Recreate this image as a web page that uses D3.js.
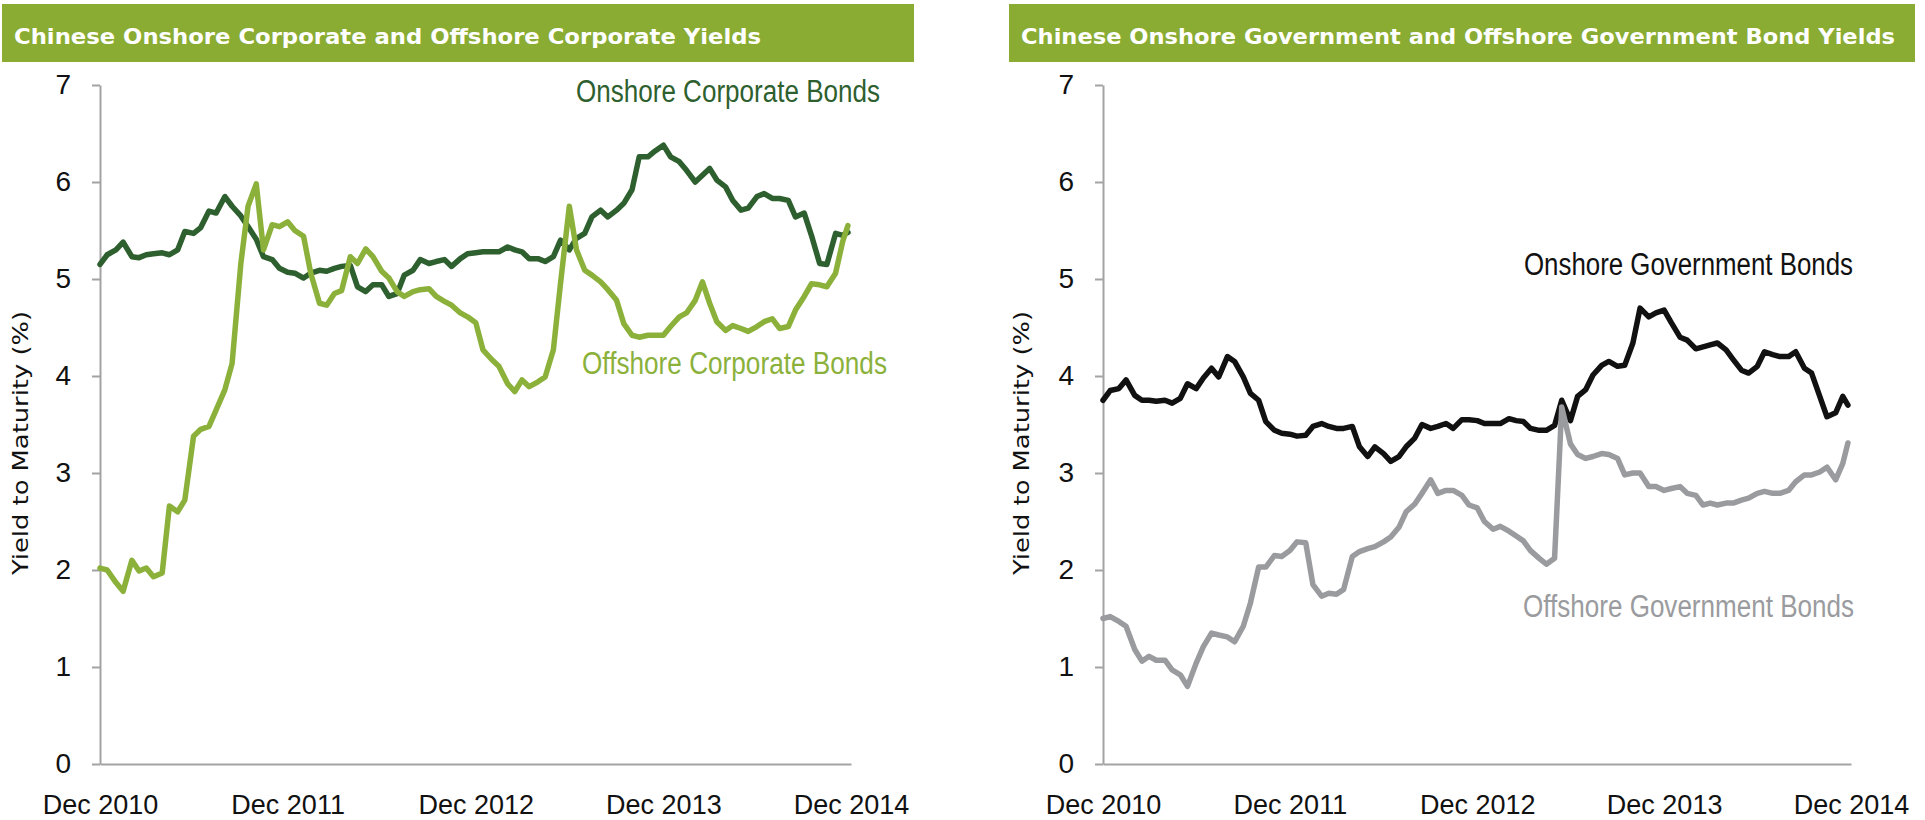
<!DOCTYPE html>
<html>
<head>
<meta charset="utf-8">
<script src="https://cdn.jsdelivr.net/npm/d3@7"></script>
<style>
  body { margin: 0; background: #fff; }
  svg { display: block; }
</style>
</head>
<body>
<div id="chart"></div>
<script>
// 1: DATA (semi-monthly readings, Dec 2010 - Nov 2014)
const dates = [
  "2010-12-01","2010-12-15",
  "2011-01-01","2011-01-15","2011-02-01","2011-02-15","2011-03-01","2011-03-15","2011-04-01","2011-04-15",
  "2011-05-01","2011-05-15","2011-06-01","2011-06-15","2011-07-01","2011-07-15","2011-08-01","2011-08-15",
  "2011-09-01","2011-09-15","2011-10-01","2011-10-15","2011-11-01","2011-11-15","2011-12-01","2011-12-15",
  "2012-01-01","2012-01-15","2012-02-01","2012-02-15","2012-03-01","2012-03-15","2012-04-01","2012-04-15",
  "2012-05-01","2012-05-15","2012-06-01","2012-06-15","2012-07-01","2012-07-15","2012-08-01","2012-08-15",
  "2012-09-01","2012-09-15","2012-10-01","2012-10-15","2012-11-01","2012-11-15","2012-12-01","2012-12-15",
  "2013-01-01","2013-01-15","2013-02-01","2013-02-15","2013-03-01","2013-03-15","2013-04-01","2013-04-15",
  "2013-05-01","2013-05-15","2013-06-01","2013-06-15","2013-07-01","2013-07-15","2013-08-01","2013-08-15",
  "2013-09-01","2013-09-15","2013-10-01","2013-10-15","2013-11-01","2013-11-15","2013-12-01","2013-12-15",
  "2014-01-01","2014-01-15","2014-02-01","2014-02-15","2014-03-01","2014-03-15","2014-04-01","2014-04-15",
  "2014-05-01","2014-05-15","2014-06-01","2014-06-15","2014-07-01","2014-07-15","2014-08-01","2014-08-15",
  "2014-09-01","2014-09-15","2014-10-01","2014-10-15","2014-11-01","2014-11-15","2014-11-25"
];

const corpOnshore = [
  5.15,5.25,5.30,5.38,5.23,5.22,5.25,5.26,5.27,5.25,
  5.30,5.49,5.47,5.53,5.70,5.68,5.85,5.75,5.65,5.54,
  5.41,5.23,5.20,5.11,5.07,5.06,5.01,5.06,5.09,5.08,
  5.11,5.13,5.14,4.92,4.87,4.94,4.94,4.82,4.85,5.04,
  5.09,5.20,5.16,5.18,5.20,5.13,5.21,5.26,5.27,5.28,
  5.28,5.28,5.33,5.30,5.28,5.21,5.21,5.18,5.23,5.40,
  5.30,5.42,5.47,5.64,5.71,5.64,5.71,5.78,5.92,6.26,
  6.26,6.32,6.38,6.26,6.21,6.12,6.00,6.07,6.14,6.02,
  5.95,5.81,5.71,5.73,5.85,5.88,5.83,5.83,5.81,5.64,
  5.68,5.45,5.16,5.15,5.47,5.45,5.48
];

const corpOffshore = [
  2.02,2.00,1.87,1.78,2.10,1.99,2.02,1.93,1.97,2.66,
  2.60,2.72,3.38,3.45,3.48,3.65,3.86,4.13,5.16,5.75,
  5.98,5.30,5.56,5.54,5.59,5.50,5.44,5.06,4.75,4.73,
  4.85,4.88,5.23,5.16,5.31,5.23,5.08,5.01,4.87,4.82,
  4.87,4.89,4.90,4.82,4.77,4.73,4.65,4.61,4.55,4.27,
  4.17,4.10,3.92,3.84,3.96,3.89,3.94,3.99,4.27,4.96,
  5.75,5.30,5.09,5.04,4.97,4.89,4.78,4.54,4.42,4.40,
  4.42,4.42,4.42,4.51,4.61,4.65,4.78,4.97,4.75,4.56,
  4.47,4.52,4.49,4.46,4.51,4.56,4.59,4.49,4.51,4.68,
  4.82,4.95,4.94,4.92,5.06,5.39,5.55
];

const govOnshore = [
  3.75,3.85,3.87,3.96,3.80,3.75,3.75,3.74,3.75,3.72,
  3.77,3.92,3.87,3.98,4.08,3.99,4.20,4.15,3.99,3.82,
  3.75,3.53,3.44,3.41,3.40,3.38,3.39,3.48,3.51,3.48,
  3.46,3.46,3.48,3.27,3.17,3.27,3.20,3.12,3.17,3.27,
  3.36,3.50,3.46,3.48,3.51,3.46,3.55,3.55,3.54,3.51,
  3.51,3.51,3.56,3.54,3.53,3.46,3.44,3.44,3.49,3.75,
  3.54,3.79,3.86,4.01,4.11,4.15,4.10,4.11,4.34,4.70,
  4.61,4.65,4.68,4.55,4.40,4.37,4.28,4.30,4.32,4.34,
  4.27,4.17,4.06,4.03,4.10,4.25,4.22,4.20,4.20,4.25,
  4.08,4.03,3.79,3.58,3.62,3.79,3.70
];

const govOffshore = [
  1.50,1.52,1.47,1.42,1.18,1.06,1.11,1.07,1.07,0.97,
  0.92,0.80,1.04,1.21,1.35,1.33,1.31,1.26,1.42,1.66,
  2.03,2.03,2.15,2.14,2.20,2.29,2.28,1.85,1.73,1.76,
  1.75,1.80,2.14,2.19,2.22,2.24,2.29,2.34,2.44,2.60,
  2.68,2.79,2.93,2.79,2.82,2.82,2.77,2.67,2.64,2.50,
  2.42,2.45,2.40,2.35,2.30,2.20,2.12,2.06,2.12,3.68,
  3.30,3.19,3.15,3.17,3.20,3.19,3.15,2.98,3.00,3.00,
  2.86,2.86,2.82,2.84,2.86,2.79,2.77,2.67,2.69,2.67,
  2.69,2.69,2.72,2.74,2.79,2.81,2.79,2.79,2.82,2.91,
  2.98,2.98,3.01,3.06,2.93,3.10,3.31
];

const yTicks = [0, 1, 2, 3, 4, 5, 6, 7];
const xTickDates = ["2010-12-01", "2011-12-01", "2012-12-01", "2013-12-01", "2014-12-01"];
const xTickLabels = ["Dec 2010", "Dec 2011", "Dec 2012", "Dec 2013", "Dec 2014"];
const titles = [
  "Chinese Onshore Corporate and Offshore Corporate Yields",
  "Chinese Onshore Government and Offshore Government Bond Yields"
];
const seriesNames = [
  ["Onshore Corporate Bonds", "Offshore Corporate Bonds"],
  ["Onshore Government Bonds", "Offshore Government Bonds"]
];
const yLabel = "Yield to Maturity (%)";

// 2: SVG
const width = 1925, height = 820;
const svg = d3.select("#chart").append("svg")
    .attr("width", width)
    .attr("height", height);

const parse = d3.timeParse("%Y-%m-%d");
const dateObjs = dates.map(parse);

const plotTop = 85, plotBottom = 764;
const y = d3.scaleLinear().domain([0, 7]).range([plotBottom, plotTop]);

function drawPanel(p) {
    const g = svg.append("g");

    // banner
    g.append("rect")
        .attr("x", p.bannerX).attr("y", 4)
        .attr("width", p.bannerW).attr("height", 58)
        .attr("fill", "#8aac32");
    g.append("text")
        .attr("x", p.bannerX + 12).attr("y", 44)
        .attr("fill", "#fff")
        .attr("font-family", "'DejaVu Sans', sans-serif")
        .attr("font-weight", "bold")
        .attr("font-size", 22)
        .attr("textLength", p.titleLen)
        .attr("lengthAdjust", "spacingAndGlyphs")
        .text(p.title);

    const x = d3.scaleTime()
        .domain([parse("2010-12-01"), parse("2014-12-01")])
        .range([p.x0, p.x1]);

    // y axis
    const yAxis = g.append("g")
        .attr("transform", `translate(${p.x0},0)`)
        .call(d3.axisLeft(y).tickValues(yTicks).tickSize(8).tickSizeOuter(0)
            .tickPadding(21).tickFormat(d3.format("d")));
    yAxis.select(".domain").attr("stroke", "#a3a3a3").attr("stroke-width", 2);
    yAxis.selectAll(".tick line").attr("stroke", "#a3a3a3").attr("stroke-width", 2);
    yAxis.selectAll(".tick text")
        .attr("fill", "#111")
        .attr("font-family", "'Liberation Sans', Arial, sans-serif")
        .attr("font-size", 28);

    // x axis
    const xAxis = g.append("g")
        .attr("transform", `translate(0,${plotBottom})`)
        .call(d3.axisBottom(x).tickValues(xTickDates.map(parse)).tickSize(0).tickSizeOuter(0)
            .tickPadding(31).tickFormat((d, i) => xTickLabels[i]));
    xAxis.select(".domain").attr("stroke", "#a3a3a3").attr("stroke-width", 2);
    xAxis.selectAll(".tick text")
        .attr("fill", "#111")
        .attr("font-family", "'Liberation Sans', Arial, sans-serif")
        .attr("font-size", 27);

    // y label
    g.append("text")
        .attr("transform", `translate(${p.labelX},443) rotate(-90)`)
        .attr("text-anchor", "middle")
        .attr("dy", "0.35em")
        .attr("fill", "#111")
        .attr("font-family", "'DejaVu Sans', sans-serif")
        .attr("font-size", 22)
        .attr("textLength", 264)
        .attr("lengthAdjust", "spacingAndGlyphs")
        .text(yLabel);

    // lines
    const line = d3.line()
        .x((d, i) => x(dateObjs[i]))
        .y(d => y(d));

    p.series.forEach(s => {
        g.append("path")
            .datum(s.values)
            .attr("fill", "none")
            .attr("stroke", s.color)
            .attr("stroke-width", 5.5)
            .attr("stroke-linejoin", "round")
            .attr("stroke-linecap", "round")
            .attr("d", line);
    });

    // series labels
    p.series.forEach(s => {
        g.append("text")
            .attr("x", s.labelX).attr("y", s.labelY)
            .attr("text-anchor", "end")
            .attr("fill", s.color)
            .attr("font-family", "'Liberation Sans Narrow', 'Liberation Sans', sans-serif")
            .attr("font-size", 31)
            .attr("textLength", s.labelLen)
            .attr("lengthAdjust", "spacingAndGlyphs")
            .text(s.name);
    });
}

drawPanel({
    bannerX: 2, bannerW: 912, title: titles[0], titleLen: 747,
    x0: 100, x1: 851, labelX: 20,
    series: [
        { name: seriesNames[0][0], values: corpOnshore, color: "#2e5f2f", labelX: 880, labelY: 102, labelLen: 304 },
        { name: seriesNames[0][1], values: corpOffshore, color: "#8bb13b", labelX: 887, labelY: 374, labelLen: 305 }
    ]
});

drawPanel({
    bannerX: 1009, bannerW: 906, title: titles[1], titleLen: 874,
    x0: 1103, x1: 1851, labelX: 1021,
    series: [
        { name: seriesNames[1][0], values: govOnshore, color: "#111111", labelX: 1853, labelY: 275, labelLen: 329 },
        { name: seriesNames[1][1], values: govOffshore, color: "#9a9b9e", labelX: 1854, labelY: 617, labelLen: 331 }
    ]
});
</script>
</body>
</html>
